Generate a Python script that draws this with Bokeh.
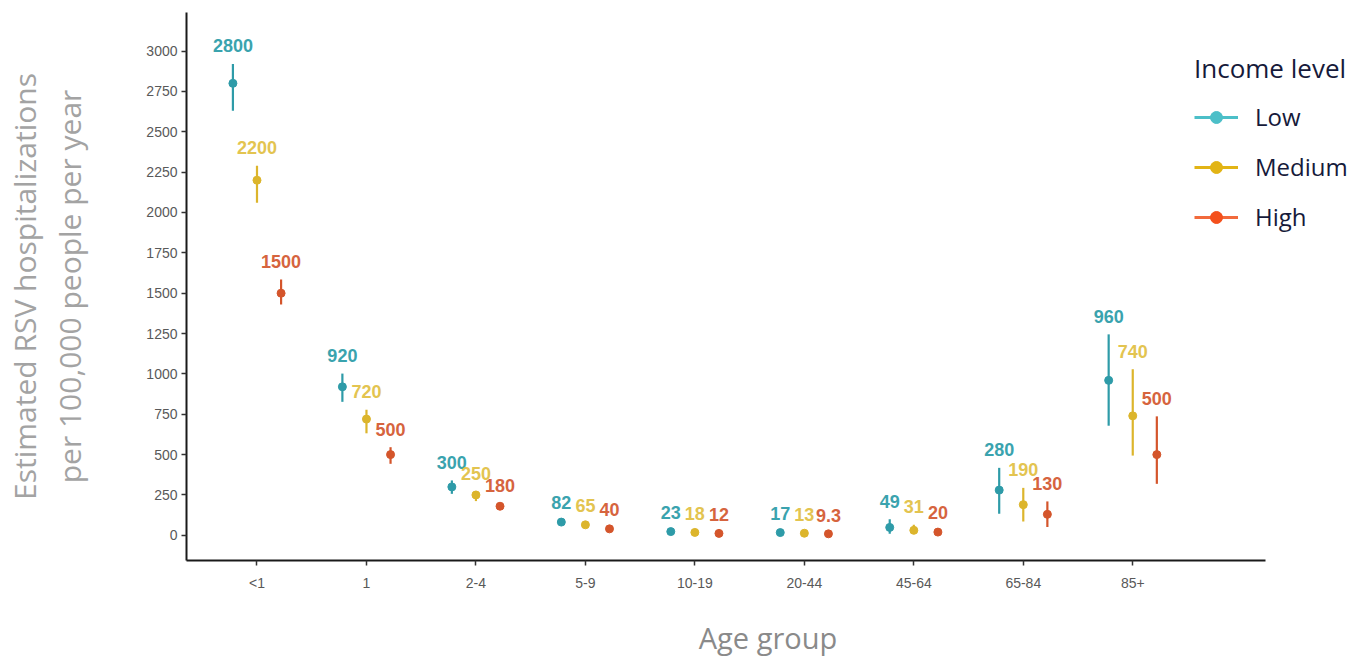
import pandas as pd
from bokeh.plotting import figure
from bokeh.models import (ColumnDataSource, Range1d, FixedTicker, Legend, LegendItem)
from bokeh.transform import dodge
from bokeh.core.properties import value
from bokeh.embed import file_html
from bokeh.resources import INLINE

# ---- data ----
ages = ["<1", "1", "2-4", "5-9", "10-19", "20-44", "45-64", "65-84", "85+"]
incomes = ["Low", "Medium", "High"]

low_val = [2800, 920, 300, 82, 23, 17, 49, 280, 960]
low_lo = [2630, 827, 257, 72, 18, 13, 10, 134, 679]
low_hi = [2920, 1002, 340, 93, 28, 21, 100, 418, 1245]

med_val = [2200, 720, 250, 65, 18, 13, 31, 190, 740]
med_lo = [2060, 632, 212, 57, 14, 10, 10, 86, 494]
med_hi = [2290, 778, 274, 74, 22, 16, 65, 294, 1029]

high_val = [1500, 500, 180, 40, 12, 9.3, 20, 130, 500]
high_lo = [1430, 443, 165, 34, 9, 7, 12, 52, 319]
high_hi = [1585, 546, 195, 47, 15, 12, 30, 210, 737]

y_ticks = [0, 250, 500, 750, 1000, 1250, 1500, 1750, 2000, 2250, 2500, 2750, 3000]

# ---- styles ----
point_colors = {"Low": "#2e9ba8", "Medium": "#dcb52c", "High": "#d4552b"}
label_colors = {"Low": "#3aa3ae", "Medium": "#e3c450", "High": "#d6643e"}
legend_colors = {"Low": "#4cbfc8", "Medium": "#e2b415", "High": "#f4501c"}
legend_line_colors = {"Low": "#4cbfc8", "Medium": "#e2b415", "High": "#f26a3c"}
offsets = {"Low": -0.22, "Medium": 0.0, "High": 0.22}

series = {
    "Low": (low_val, low_lo, low_hi),
    "Medium": (med_val, med_lo, med_hi),
    "High": (high_val, high_lo, high_hi),
}

p = figure(width=1349, height=659, output_backend="svg", toolbar_location=None,
           x_range=Range1d(-0.644, 9.98), y_range=Range1d(-156, 3239),
           min_border_left=186, min_border_top=12, min_border_right=0,
           min_border_bottom=97)
p.outline_line_color = None
p.xgrid.grid_line_color = None
p.ygrid.grid_line_color = None
p.background_fill_color = "white"
p.border_fill_color = "white"

for inc in incomes:
    v, lo, hi = series[inc]
    df = pd.DataFrame({
        "x": list(range(len(ages))),
        "val": v, "lo": lo, "hi": hi,
        "label": [f"{a:g}" for a in v],
    })
    src = ColumnDataSource(df)
    xd = dodge("x", offsets[inc])
    p.segment(x0=xd, y0="lo", x1=xd, y1="hi", source=src,
              line_color=point_colors[inc], line_width=2.2)
    p.scatter(x=xd, y="val", source=src, size=8, fill_color=point_colors[inc],
              line_color=point_colors[inc])
    p.text(x=xd, y="hi", text="label", source=src, y_offset=-18,
           text_align="center", text_baseline="middle",
           text_font=value("Liberation Sans"), text_font_style="bold",
           text_font_size="18px", text_color=label_colors[inc])

# legend (dummy renderers with NaN data carry the legend styling)
nan = float("nan")
items = []
for inc in incomes:
    lr = p.line(x=[nan], y=[nan], line_color=legend_line_colors[inc], line_width=3)
    sr = p.scatter(x=[nan], y=[nan], size=11, fill_color=legend_colors[inc],
                   line_color=legend_colors[inc])
    items.append(LegendItem(label=inc, renderers=[lr, sr]))

legend = Legend(items=items, location=(1008, 327), title="Income level",
                title_text_font="Open Sans", title_text_font_size="26px",
                title_text_color="#161a3a", title_text_font_style="normal",
                title_standoff=14,
                label_text_font="Open Sans", label_text_font_size="24px",
                label_text_color="#161a3a", glyph_width=44, glyph_height=30,
                label_height=30, label_standoff=17, spacing=17, padding=0,
                margin=0, border_line_color=None, background_fill_alpha=0)
p.add_layout(legend)

# axes
for ax in (p.xaxis[0], p.yaxis[0]):
    ax.axis_line_color = "#1a1a1a"
    ax.axis_line_width = 2
    ax.major_tick_line_color = "#333333"
    ax.major_tick_line_width = 1.5
    ax.major_tick_out = 5
    ax.major_tick_in = 0
    ax.minor_tick_line_color = None
    ax.major_label_text_font = "Liberation Sans"
    ax.major_label_text_font_size = "14px"
    ax.major_label_text_color = "#595959"
    ax.axis_label_text_font = "Open Sans"
    ax.axis_label_text_font_style = "normal"

p.xaxis.ticker = FixedTicker(ticks=list(range(len(ages))))
p.xaxis.major_label_overrides = {i: a for i, a in enumerate(ages)}
p.xaxis.bounds = (-0.644, 9.21)
p.xaxis.major_label_standoff = 9
p.xaxis.axis_label = "Age group"
p.xaxis.axis_label_text_font_size = "29px"
p.xaxis.axis_label_text_color = "#8a8a8a"
p.xaxis.axis_label_text_line_height = 0.8
p.xaxis.axis_label_standoff = 24

p.yaxis.ticker = FixedTicker(ticks=y_ticks)
p.yaxis.major_label_standoff = 4
p.yaxis.axis_label = "Estimated RSV hospitalizations\nper 100,000 people per year"
p.yaxis.axis_label_text_font_size = "30px"
p.yaxis.axis_label_text_line_height = 1.1
p.yaxis.axis_label_text_color = "#a3a3a3"
p.yaxis.axis_label_standoff = 53

open("out.html", "w").write(file_html(p, INLINE))
